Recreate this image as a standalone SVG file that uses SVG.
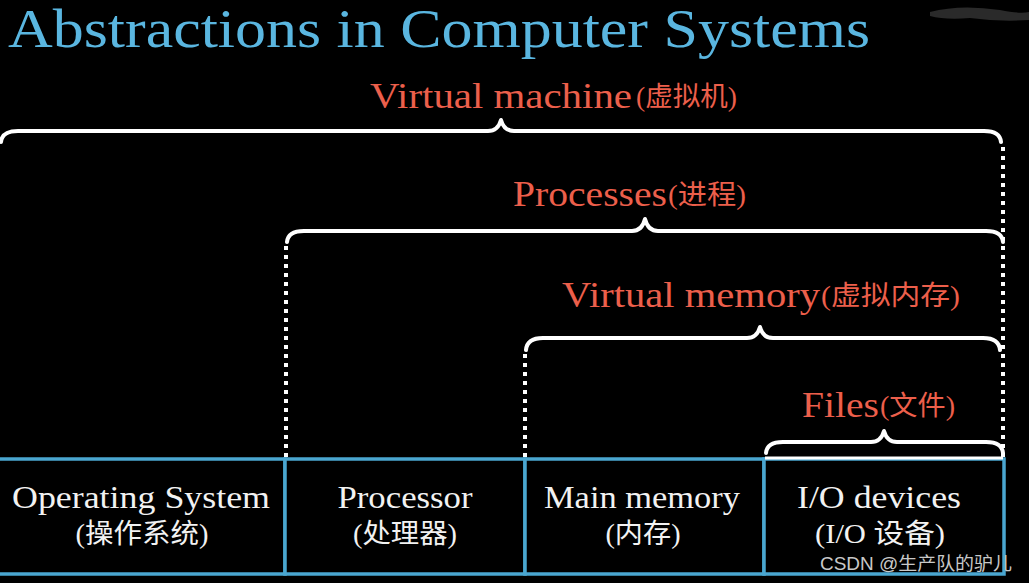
<svg xmlns="http://www.w3.org/2000/svg" width="1029" height="583" viewBox="0 0 1029 583">
<style>
.title{font-family:"Liberation Serif","DejaVu Serif",serif;fill:#5ab6e0;font-size:54px}
.lab{font-family:"Liberation Serif","Noto Sans CJK SC",serif;fill:#ec5f4b;font-size:36px}
.cj{font-size:27px;font-family:"Liberation Serif","Noto Sans CJK SC",serif}
.brace{fill:none;stroke:#fff;stroke-width:4;stroke-linecap:round;stroke-linejoin:round}
.dot{fill:none;stroke:#fff;stroke-width:4;stroke-dasharray:4 5}
.box{fill:#000;stroke:#4aa6d0;stroke-width:3.5}
.bt{font-family:"Liberation Serif","Noto Sans CJK SC",serif;fill:#f2f2f2;font-size:31px;text-anchor:middle}
.bc{font-family:"Liberation Serif","Noto Sans CJK SC",serif;fill:#f2f2f2;font-size:27px;text-anchor:middle}
.wm{font-family:"Liberation Sans","Noto Sans CJK SC",sans-serif;fill:#c8c8c8;font-size:18px}
</style>
<rect width="1029" height="583" fill="#000"/>
<path d="M930 12 Q960 4 1000 10 Q1020 14 1029 12 L1029 20 Q1000 22 970 18 Q945 20 930 16 Z" fill="#2a2a2a"/>
<text class="title" x="8" y="47" textLength="862" lengthAdjust="spacingAndGlyphs">Abstractions in Computer Systems</text>

<g id="boxes">
<g id="os"><rect class="box" x="-3" y="459" width="288" height="115"/>
<text class="bt" x="141" y="508" textLength="258" lengthAdjust="spacingAndGlyphs">Operating System</text><text class="bc" x="142" y="543" textLength="133" lengthAdjust="spacingAndGlyphs">(操作系统)</text></g>
<g id="processor"><rect class="box" x="285" y="459" width="240" height="115"/>
<text class="bt" x="405" y="508" textLength="135" lengthAdjust="spacingAndGlyphs">Processor</text><text class="bc" x="405" y="543" textLength="104" lengthAdjust="spacingAndGlyphs">(处理器)</text></g>
<g id="mainmem"><rect class="box" x="525" y="459" width="239" height="115"/>
<text class="bt" x="642" y="508" textLength="196" lengthAdjust="spacingAndGlyphs">Main memory</text><text class="bc" x="643" y="543" textLength="75" lengthAdjust="spacingAndGlyphs">(内存)</text></g>
<g id="io"><rect class="box" x="764" y="459" width="240" height="115"/>
<text class="bt" x="879" y="508" textLength="164" lengthAdjust="spacingAndGlyphs">I/O devices</text><text class="bc" x="880" y="543" textLength="130" lengthAdjust="spacingAndGlyphs">(I/O 设备)</text></g>
</g>

<g id="connectors">
<line class="dot" x1="1003" y1="147" x2="1003" y2="458"/>
<line class="dot" x1="286" y1="246" x2="286" y2="458"/>
<line class="dot" x1="525" y1="354" x2="525" y2="458"/>
<line x1="765" y1="458" x2="1003" y2="458" stroke="#fff" stroke-width="3"/>
</g>

<g id="vm">
<path class="brace" d="M1 142 Q2 131 18 131 L488 131 Q498 131 501 120 Q504 131 514 131 L984 131 Q1000 131 1001 142"/>
<text class="lab" x="370" y="108" textLength="262" lengthAdjust="spacingAndGlyphs">Virtual machine</text>
<text class="lab cj" x="636" y="106" textLength="101" lengthAdjust="spacingAndGlyphs">(虚拟机)</text>
</g>
<g id="processes">
<path class="brace" d="M287 242 Q288 231 304 231 L632 231 Q642 231 645 219 Q648 231 658 231 L986 231 Q1002 231 1003 242"/>
<text class="lab" x="513" y="206" textLength="154" lengthAdjust="spacingAndGlyphs">Processes</text>
<text class="lab cj" x="668" y="204" textLength="78" lengthAdjust="spacingAndGlyphs">(进程)</text>
</g>
<g id="vmem">
<path class="brace" d="M526 350 Q527 338 543 338 L747 338 Q757 338 760 327 Q763 338 773 338 L983 338 Q999 338 1000 350"/>
<text class="lab" x="562" y="307" textLength="258" lengthAdjust="spacingAndGlyphs">Virtual memory</text>
<text class="lab cj" x="821" y="305" textLength="139" lengthAdjust="spacingAndGlyphs">(虚拟内存)</text>
</g>
<g id="files">
<path class="brace" d="M766 453 Q767 442 783 442 L871 442 Q881 442 884 431 Q887 442 897 442 L986 442 Q1002 442 1003 453"/>
<text class="lab" x="802" y="417" textLength="77" lengthAdjust="spacingAndGlyphs">Files</text>
<text class="lab cj" x="880" y="415" textLength="75" lengthAdjust="spacingAndGlyphs">(文件)</text>
</g>

<text class="wm" x="820" y="570" textLength="192" lengthAdjust="spacingAndGlyphs">CSDN @生产队的驴儿</text>
</svg>
